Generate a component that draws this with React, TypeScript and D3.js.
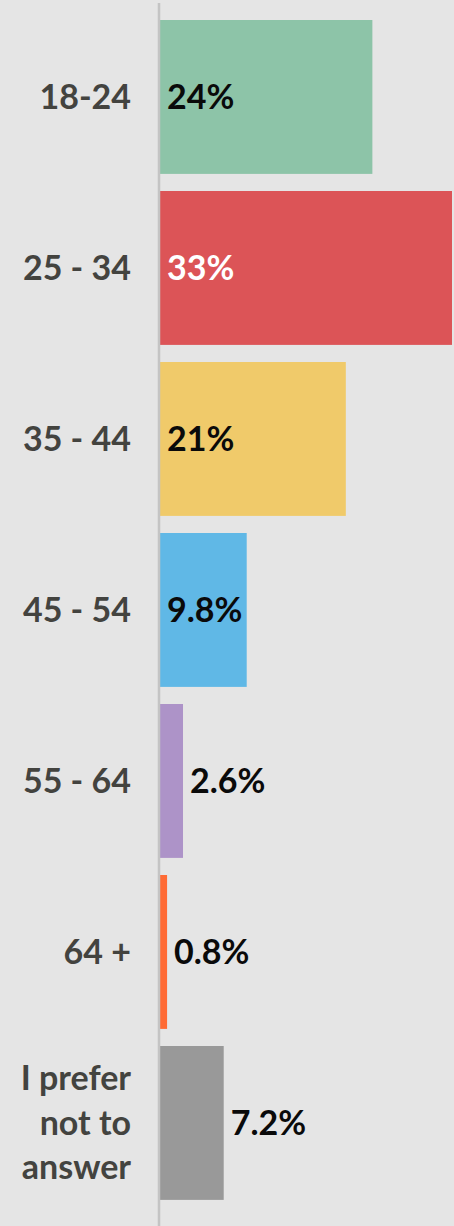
import React, { useMemo } from "react";
import * as d3 from "d3";

const categories = ["18-24", "25 - 34", "35 - 44", "45 - 54", "55 - 64", "64 +", "I prefer not to answer"];
const categoryLines = [["18-24"], ["25 - 34"], ["35 - 44"], ["45 - 54"], ["55 - 64"], ["64 +"], ["I prefer", "not to", "answer"]];
const values = [24, 33, 21, 9.8, 2.6, 0.8, 7.2];
const valueLabels = ["24%", "33%", "21%", "9.8%", "2.6%", "0.8%", "7.2%"];
const barColors = ["#8dc4a8", "#dc5457", "#f0ca6a", "#60b8e6", "#ad93c8", "#ff6b35", "#999999"];
const labelColors = ["#0a0a0a", "#fff", "#0a0a0a", "#0a0a0a", "#0a0a0a", "#0a0a0a", "#0a0a0a"];

const W = 454;
const H = 1226;
const FONT = "Lato, 'Open Sans', sans-serif";
const FS = 34;

function measure(text: string): number {
  const c = document.createElement("canvas");
  const ctx = c.getContext("2d");
  if (!ctx) return text.length * FS * 0.55;
  ctx.font = `bold ${FS}px Lato`;
  return ctx.measureText(text).width;
}

export default function App() {
  const x = d3.scaleLinear().domain([0, d3.max(values) as number]).range([160, 452]);
  const y = d3.scaleBand<string>().domain(categories).range([2.9, 1217]).padding(0.1);
  const widths = useMemo(() => valueLabels.map(measure), []);

  return (
    <svg width={W} height={H} style={{ position: "absolute", left: 0, top: 0, background: "#e5e5e5" }}>
      <rect x={0} y={0} width={W} height={H} fill="#e5e5e5" />
      {categories.map((c, i) => {
        const y0 = y(c) as number;
        const bw = y.bandwidth();
        const cy = y0 + bw / 2;
        const x1 = x(values[i]);
        const inside = x1 - x(0) >= widths[i] + 10;
        const lx = inside ? x(0) + 7 : x1 + 7;
        const lines = categoryLines[i];
        const lh = 44.5;
        return (
          <g key={c}>
            <rect x={x(0)} y={y0} width={x1 - x(0)} height={bw} fill={barColors[i]} />
            <text
              x={lx}
              y={cy}
              dy="0.35em"
              fontFamily={FONT}
              fontWeight={700}
              fontSize={FS}
              fill={inside ? labelColors[i] : "#0a0a0a"}
            >
              {valueLabels[i]}
            </text>
            <text
              x={131}
              y={cy}
              textAnchor="end"
              fontFamily={FONT}
              fontWeight={700}
              fontSize={FS}
              fill="#43433f"
            >
              {lines.map((l, k) => (
                <tspan key={k} x={131} y={cy + (k - (lines.length - 1) / 2) * lh} dy="0.35em">
                  {l}
                </tspan>
              ))}
            </text>
          </g>
        );
      })}
      <line x1={159} x2={159} y1={3} y2={H} stroke="#c4c4c4" strokeWidth={2.5} />
    </svg>
  );
}
